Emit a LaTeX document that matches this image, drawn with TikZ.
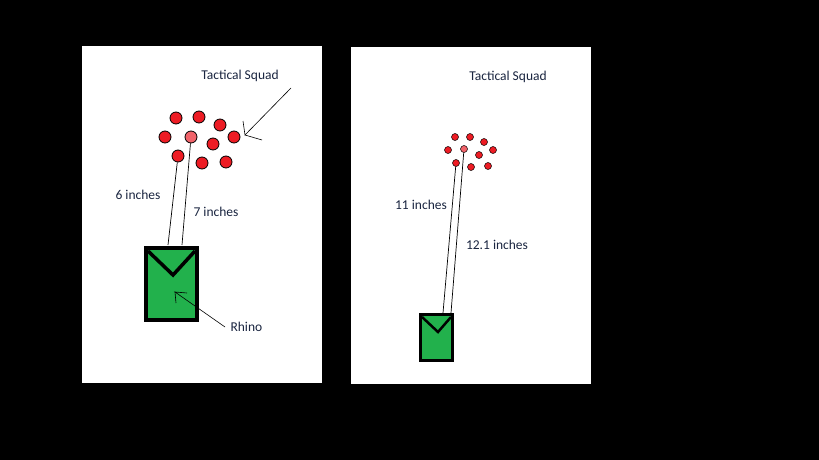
\documentclass[tikz,border=0pt]{standalone}
\usepackage{fontspec}
\setmainfont{Carlito}
\definecolor{pgreen}{HTML}{22B14C}
\definecolor{pred}{HTML}{ED1C24}
\definecolor{plred}{HTML}{F0636A}
\definecolor{ptext}{HTML}{1A2540}
\begin{document}
\begin{tikzpicture}[x=1pt,y=-1pt,
  dot/.style={circle,draw=black,line width=0.8pt,fill=pred,inner sep=0pt},
  ldot/.style={dot,fill=plred},
  lbl/.style={font=\fontsize{13.5}{16}\selectfont,text=ptext},
  meas/.style={black,line width=0.7pt},
  rhino/.style={draw=black,fill=pgreen,line width=4pt}]
\useasboundingbox (0,0) rectangle (819,460);
\fill[black] (0,0) rectangle (819,460);
\fill[white] (82,46) rectangle (322,383);
\fill[white] (351,47) rectangle (591,384);
% left
\node[rhino,minimum width=51pt,minimum height=72pt] (r1) at (171.5,284) {};
\draw[line width=3.5pt] (148,251) -- (173,275) -- (195,251);
\foreach \n/\x/\y in {a/176/118,b/199/117,c/220/125,d/165/137,f/213/144,g/234/137,h/178/156,i/202/163,j/226/162}
  \node[dot,minimum size=12pt] (\n) at (\x,\y) {};
\node[ldot,minimum size=12pt] (e) at (191,137) {};
\coordinate (p1) at (168,245); \coordinate (p2) at (182,245);
\draw[meas] (h) -- (p1); \draw[meas] (e) -- (p2);
\node[lbl] (t6) at (138,195) {6 inches};
\node[lbl] (t7) at (216,212) {7 inches};
\node[lbl] (ts1) at (240,76) {Tactical Squad};
\coordinate (a1s) at (291,88); \coordinate (a1e) at (245,135);
\draw[line width=0.6pt] (a1s) -- (a1e) -- (243,121); \draw[line width=0.6pt] (a1e) -- (262,140);
\node[lbl,anchor=west] (rh) at (227,327) {Rhino};
\coordinate (a2s) at (225,327); \coordinate (a2e) at (175,292);
\draw[line width=0.6pt] (a2s) -- (a2e) -- (187,293); \draw[line width=0.6pt] (a2e) -- (176,303);
% right
\node[rhino,minimum width=32pt,minimum height=46pt,line width=3.5pt] (r2) at (436.5,337.5) {};
\draw[line width=2.5pt] (422,317) -- (438,332) -- (451,317);
\foreach \n/\x/\y in {ra/455/137,rb/470/137,rc/484/142,rd/448/150,rf/479/155,rg/493/150,rh2/456/163,ri/471/167,rj/488/166}
  \node[dot,minimum size=7pt,line width=0.5pt] (\n) at (\x,\y) {};
\node[ldot,minimum size=7pt,line width=0.5pt] (re) at (464,149) {};
\coordinate (q1) at (443,313); \coordinate (q2) at (451,313);
\draw[meas] (rh2) -- (q1); \draw[meas] (re) -- (q2);
\node[lbl] (t11) at (421,205) {11 inches};
\node[lbl] (t12) at (497,245) {12.1 inches};
\node[lbl] (ts2) at (508,77) {Tactical Squad};
\end{tikzpicture}
\end{document}
